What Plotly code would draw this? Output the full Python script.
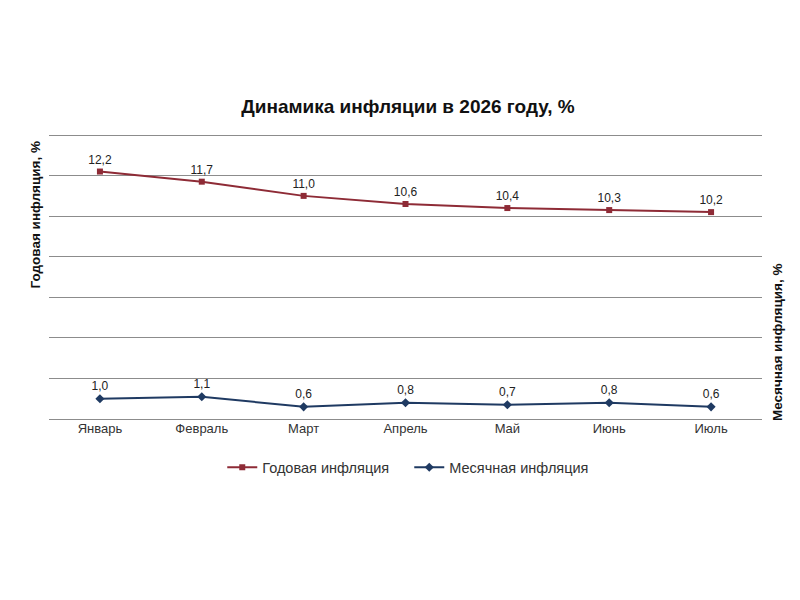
import plotly.graph_objects as go

months = ["Январь", "Февраль", "Март", "Апрель", "Май", "Июнь", "Июль"]
annual = [12.2, 11.7, 11.0, 10.6, 10.4, 10.3, 10.2]
monthly = [1.0, 1.1, 0.6, 0.8, 0.7, 0.8, 0.6]

RED = "#8E2B36"
BLUE = "#1F3A62"
FONT = "Liberation Sans, Arial, sans-serif"

fig = go.Figure()
fig.add_trace(go.Scatter(
    x=months, y=annual, name="Годовая инфляция",
    mode="lines+markers+text",
    line=dict(color=RED, width=2),
    marker=dict(symbol="square", size=6, color=RED),
    text=[f"{v:.1f}".replace(".", ",") for v in annual],
    textposition="top center",
    textfont=dict(size=12, color="#222", family=FONT),
    yaxis="y",
))
fig.add_trace(go.Scatter(
    x=months, y=monthly, name="Месячная инфляция",
    mode="lines+markers+text",
    line=dict(color=BLUE, width=2),
    marker=dict(symbol="diamond", size=7, color=BLUE),
    text=[f"{v:.1f}".replace(".", ",") for v in monthly],
    textposition="top center",
    textfont=dict(size=12, color="#222", family=FONT),
    yaxis="y2",
))

fig.update_layout(
    width=800, height=600,
    paper_bgcolor="white", plot_bgcolor="white",
    font=dict(family=FONT, size=12, color="#222"),
    margin=dict(l=41, r=46, t=125, b=189),
    title=dict(text="<b>Динамика инфляции в 2026 году, %</b>",
               x=0.5, xanchor="center", y=1 - 98 / 600, yanchor="middle",
               font=dict(size=19, color="#111", family=FONT)),
    xaxis=dict(range=[-0.5, 6.5], showgrid=False, showline=False,
               ticks="", tickfont=dict(size=13, color="#333")),
    yaxis=dict(range=[0, 14.1], dtick=2, showgrid=True, gridcolor="#8c8c8c",
               gridwidth=1, showticklabels=False, zeroline=True,
               zerolinecolor="#8c8c8c", zerolinewidth=1, fixedrange=True),
    yaxis2=dict(range=[0, 14.1], overlaying="y", side="right",
                showgrid=False, showticklabels=False, zeroline=False),
    legend=dict(orientation="h", x=0.243, xanchor="left", y=-0.169,
                yanchor="middle", font=dict(size=14.5, color="#333"),
                entrywidth=142, entrywidthmode="pixels", itemwidth=30),
    showlegend=True,
    annotations=[
        dict(text="<b>Годовая инфляция, %</b>", xref="paper", yref="paper",
             x=-0.0196, y=0.715, xanchor="center", yanchor="middle",
             textangle=-90, showarrow=False,
             font=dict(size=13.5, color="#111")),
        dict(text="<b>Месячная инфляция, %</b>", xref="paper", yref="paper",
             x=1.022, y=0.268, xanchor="center", yanchor="middle",
             textangle=-90, showarrow=False,
             font=dict(size=13.5, color="#111")),
    ],
)

fig.write_html("out.html")
